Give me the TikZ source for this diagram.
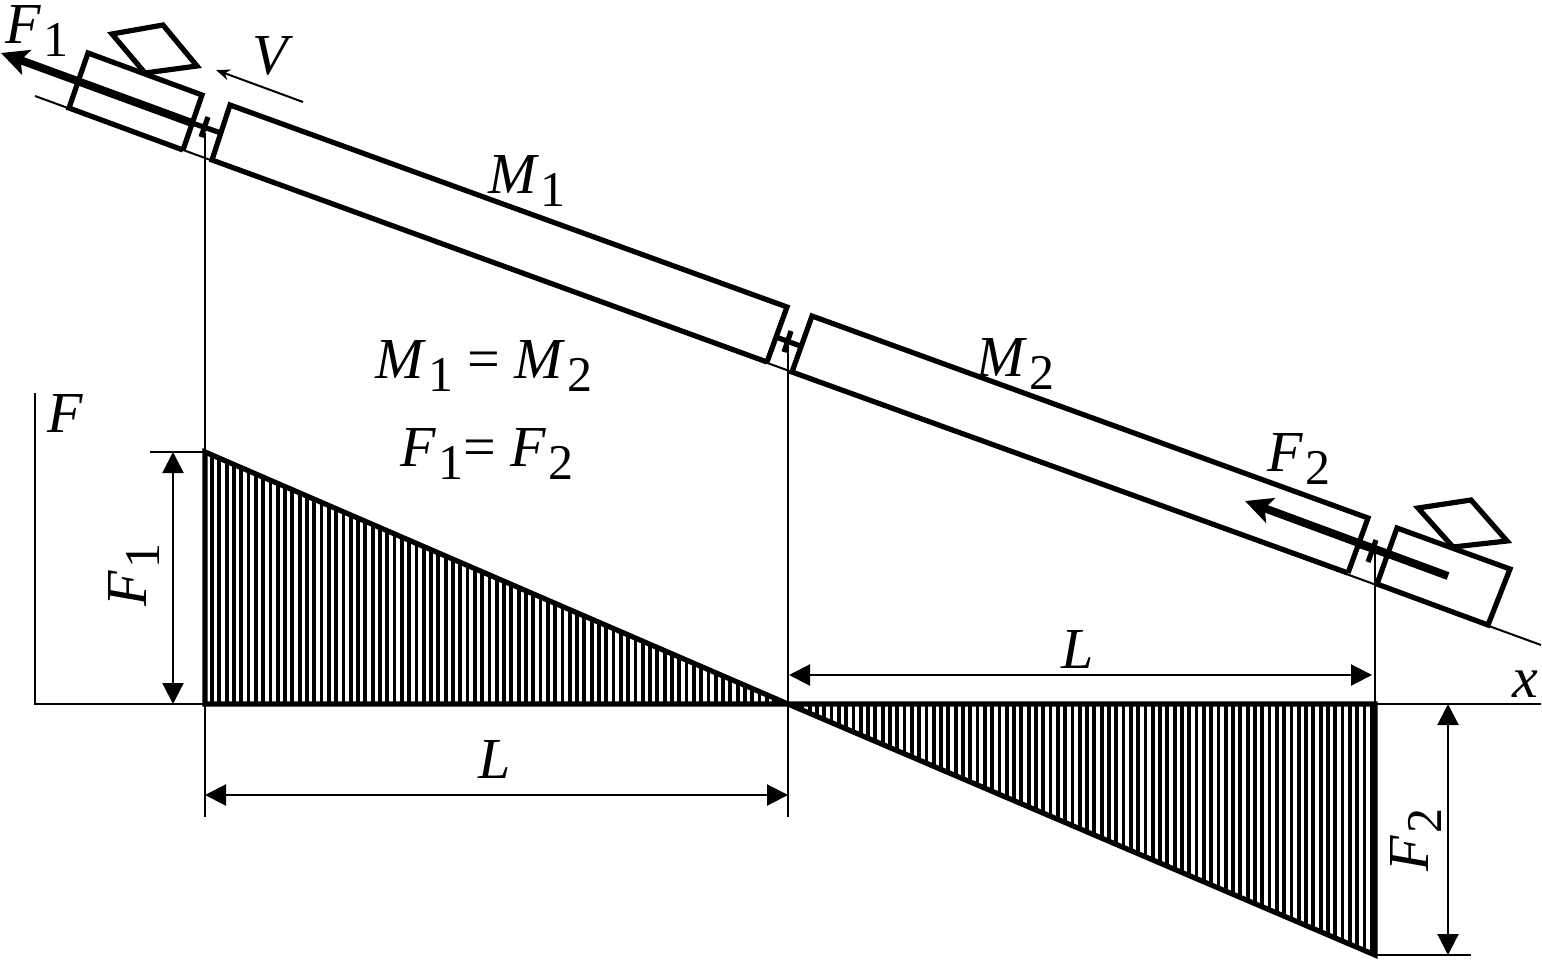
\documentclass[tikz,border=0pt]{standalone}
\usepackage{fontspec}
\setmainfont{Liberation Serif}
\usetikzlibrary{arrows.meta}
\newcommand{\sublab}[2]{\textit{#1}\kern2pt\raisebox{-13pt}{\fontsize{50}{50}\selectfont #2}}
\tikzset{
    thin line/.style={line width=2pt},
    thick line/.style={line width=5.2pt, line join=miter},
    hatch line/.style={line width=3.8pt},
    dim line/.style={line width=2.2pt, {Triangle[length=21pt,width=21pt]}-{Triangle[length=21pt,width=21pt]}},
    pull line/.style={line width=8pt, -{Stealth[length=27pt,width=26pt,inset=6pt]}},
    lab/.style={inner sep=0pt, font=\fontsize{58}{58}\selectfont}
}
\begin{document}
\begin{tikzpicture}[x=1pt, y=-1pt]
    \useasboundingbox (0,0) rectangle (1542,961);

    % track
    \coordinate (t0) at (35,96);
    \coordinate (t1) at (1541,645);
    \draw[thin line] (t0) -- (t1);

    % rear car, wagons, front car
    \coordinate (a1) at (88,53);
    \coordinate (a2) at (202,95);
    \coordinate (a3) at (183,150);
    \coordinate (a4) at (69,108);
    \draw[thick line] (a3) -- (a2) -- (a1) -- (a4) -- (a3);

    \coordinate (m1) at (212,160);
    \coordinate (m2) at (230,105);
    \coordinate (m3) at (787,307);
    \coordinate (m4) at (767,362);
    \draw[thick line] (m4) -- (m1) -- (m2) -- (m3) -- (m4);

    \coordinate (n1) at (792,372);
    \coordinate (n2) at (812,316);
    \coordinate (n3) at (1368,518);
    \coordinate (n4) at (1348,573);
    \draw[thick line] (n4) -- (n1) -- (n2) -- (n3) -- (n4);

    \coordinate (b1) at (1377,584);
    \coordinate (b2) at (1397,528);
    \coordinate (b3) at (1510,569);
    \coordinate (b4) at (1488,625);
    \draw[thick line] (b1) -- (b2) -- (b3) -- (b4) -- (b1);

    % windscreens
    \coordinate (c1) at (112,34);
    \coordinate (c2) at (163,25);
    \coordinate (c3) at (197,66);
    \coordinate (c4) at (145,73);
    \draw[thick line] (c1) -- (c2) -- (c3) -- (c4) -- cycle;
    \coordinate (d1) at (1418,508);
    \coordinate (d2) at (1471,500);
    \coordinate (d3) at (1507,541);
    \coordinate (d4) at (1453,547);
    \draw[thick line] (d1) -- (d2) -- (d3) -- (d4) -- cycle;

    % couplers
    \coordinate (e1) at (192,123);
    \coordinate (e2) at (221,133);
    \coordinate (e3) at (208,117);
    \coordinate (e4) at (201,137);
    \draw[thick line] (e1) -- (e2);
    \draw[thick line] (e3) -- (e4);
    \coordinate (f1) at (776,337);
    \coordinate (f2) at (803,347);
    \coordinate (f3) at (791,331);
    \coordinate (f4) at (784,352);
    \draw[thick line] (f1) -- (f2);
    \draw[thick line] (f3) -- (f4);
    \coordinate (g1) at (1358,545);
    \coordinate (g2) at (1387,555);
    \coordinate (g3) at (1376,540);
    \coordinate (g4) at (1368,562);
    \draw[thick line] (g1) -- (g2);
    \draw[thick line] (g3) -- (g4);

    % forces and speed
    \coordinate (p1) at (192,123);
    \coordinate (p2) at (1,53);
    \draw[pull line] (p1) -- (p2);
    \coordinate (q1) at (1448,576);
    \coordinate (q2) at (1245,501);
    \draw[pull line] (q1) -- (q2);
    \coordinate (v1) at (303,102);
    \coordinate (v2) at (216,70);
    \draw[line width=2pt, -{Stealth[length=14pt,width=11pt]}] (v1) -- (v2);

    % axes and guides
    \coordinate (o0) at (35,704);
    \coordinate (o1) at (205,704);
    \coordinate (o2) at (788,704);
    \coordinate (o3) at (1375,704);
    \coordinate (o4) at (1541,704);
    \coordinate (y0) at (35,393);
    \coordinate (y1) at (205,452);
    \coordinate (y3) at (1375,955);
    \draw[line width=2.2pt] (y0) -- (o0) -- (o4);
    \coordinate (h1) at (205,133);
    \coordinate (h2) at (205,817);
    \coordinate (h3) at (788,345);
    \coordinate (h4) at (788,817);
    \coordinate (h5) at (1375,553);
    \draw[line width=2.2pt] (h1) -- (h2);
    \draw[line width=2.2pt] (h3) -- (h4);
    \draw[line width=2.2pt] (h5) -- (y3);

    % load triangles
    \foreach \hx in {212,219.3,...,785} {
        \draw[hatch line] (\hx,704) -- (\hx,{452+(\hx-205)*0.4322});
    }
    \foreach \hx in {795,802.3,...,1372} {
        \draw[hatch line] (\hx,704) -- (\hx,{704+(\hx-788)*0.4276});
    }
    \draw[thick line] (y1) -- (o1) -- (o3) -- (y3) -- (o2) -- (y1) -- cycle;

    % dimensions
    \coordinate (k1) at (150,452);
    \coordinate (k2) at (173,452);
    \coordinate (k3) at (173,704);
    \draw[line width=2.2pt] (k1) -- (y1);
    \draw[dim line] (k2) -- (k3);
    \coordinate (l1) at (205,795);
    \coordinate (l2) at (788,795);
    \draw[dim line] (l1) -- (l2);
    \coordinate (l3) at (789,675);
    \coordinate (l4) at (1372,675);
    \draw[dim line] (l3) -- (l4);
    \coordinate (r1) at (1448,704);
    \coordinate (r2) at (1448,955);
    \coordinate (r3) at (1471,955);
    \draw[dim line] (r1) -- (r2);
    \draw[line width=2.2pt] (y3) -- (r3);

    % labels
    \node[lab] (lf1) at (37,31) {\sublab{F}{1}};
    \node[lab] (lv) at (273,56) {\textit{V}};
    \node[lab] (lm1) at (527,181) {\sublab{M}{1}};
    \node[lab] (lm2) at (1015,364) {\sublab{M}{2}};
    \node[lab] (leq1) at (484,366) {\sublab{M}{1} = \sublab{M}{2}};
    \node[lab] (leq2) at (487,454) {\sublab{F}{1}= \sublab{F}{2}};
    \node[lab] (lf) at (65,414) {\textit{F}};
    \node[lab] (lf2) at (1299,459) {\sublab{F}{2}};
    \node[lab, rotate=90] (lf1v) at (134,575) {\sublab{F}{1}};
    \node[lab, rotate=90] (lf2v) at (1416,840) {\sublab{F}{2}};
    \node[lab] (ll1) at (495,760) {\textit{L}};
    \node[lab] (ll2) at (1078,650) {\textit{L}};
    \node[lab] (lx) at (1525,684) {\textit{x}};
\end{tikzpicture}
\end{document}
